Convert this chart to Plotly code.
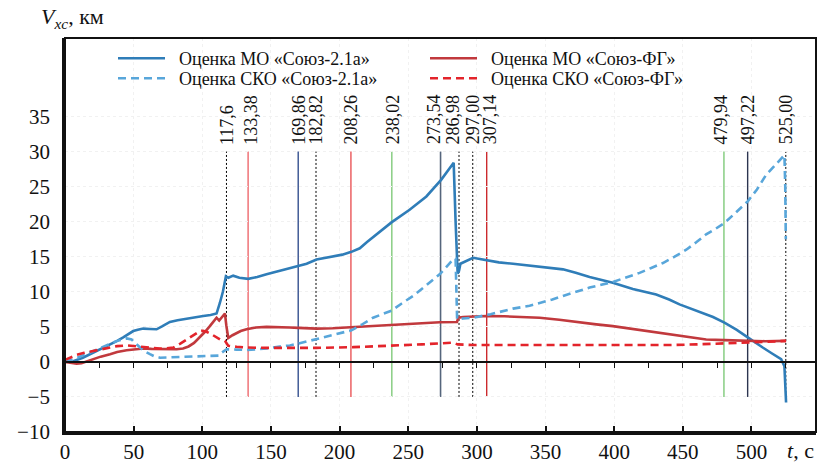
import plotly.graph_objects as go

# ---------------- data ----------------
# Оценка МО «Союз-2.1а»
mo_s21_t = [0, 6, 13, 20.6, 27, 32.8, 38, 42.4, 46, 49.7, 53, 57, 62, 66.7, 71, 76.4, 82, 88.6, 95, 100.7,
            106, 110.4, 112.8, 115, 117.2, 119, 122.5, 127, 133.4, 140, 146.8, 155, 163.8, 169.8, 176, 183.2,
            195.3, 202, 208.6, 214.7, 220, 226.9, 237.8, 251, 263.2, 274.1, 283.1, 284.5, 286, 287, 288,
            297.2, 306.9, 316, 326.3, 338.4, 350, 362.7, 372, 382.1, 399, 413.6, 430.6, 440, 447.6, 456,
            464.6, 472, 480.3, 489, 497.3, 503, 508.2, 515, 521.6, 524, 524.8, 525.2]
mo_s21_v = [0.0, 0.1, 0.6, 1.3, 1.9, 2.5, 3.0, 3.5, 3.9, 4.4, 4.6, 4.75, 4.7, 4.65, 5.1, 5.7, 5.95, 6.2, 6.4, 6.55,
            6.7, 6.9, 8.4, 10.0, 12.2, 12.0, 12.3, 12.0, 11.85, 12.1, 12.5, 12.9, 13.3, 13.6, 14.0, 14.6,
            15.0, 15.3, 15.7, 16.2, 17.1, 18.2, 19.9, 21.7, 23.6, 26.0, 28.4, 20.0, 12.6, 13.0, 14.0,
            14.85, 14.5, 14.2, 14.0, 13.75, 13.5, 13.2, 12.7, 12.1, 11.3, 10.4, 9.6, 8.9, 8.2, 7.6,
            7.0, 6.4, 5.6, 4.6, 3.5, 2.7, 2.05, 1.2, 0.4, -0.6, -3.0, -5.8]

# Оценка СКО «Союз-2.1а»
sko_s21_t = [0, 8, 14, 20.6, 26, 32.8, 38, 44.9, 48.5, 51, 54.6, 58, 61.9, 65, 69.1, 80, 93.4, 104, 110.4, 112,
             114, 117.7, 125, 132.2, 140, 146.8, 156.5, 163.8, 169.8, 176, 183.2, 195, 208.6, 216, 224.4, 231,
             237.8, 245, 253.5, 263, 272.9, 278, 282.6, 284.5, 285, 285.6, 290, 297.2, 310, 326.3, 338.4,
             345.7, 355, 362.7, 372, 382.1, 399, 408, 418.5, 427, 435.5, 444, 452.5, 460, 467, 474, 480.3,
             488, 497.3, 504, 510.7, 517, 522.8, 524, 524.6, 525]
sko_s21_v = [0.0, 0.5, 1.0, 1.55, 2.0, 2.5, 3.0, 3.35, 3.2, 2.7, 2.05, 1.5, 1.1, 0.8, 0.6, 0.65, 0.75, 0.8, 0.85, 0.9,
             1.3, 1.8, 1.75, 1.7, 1.8, 1.9, 2.2, 2.35, 2.6, 2.9, 3.2, 3.8, 4.5, 5.3, 6.3, 6.8,
             7.3, 8.3, 9.4, 10.9, 12.5, 13.6, 14.6, 14.7, 10.0, 6.1, 6.2, 6.3, 6.8, 7.6, 8.0,
             8.35, 8.9, 9.4, 10.0, 10.6, 11.4, 12.0, 12.7, 13.4, 14.1, 15.0, 16.0, 17.1, 18.2, 19.0, 19.8,
             21.2, 22.9, 24.6, 26.7, 28.0, 29.3, 29.5, 25.0, 17.5]

# Оценка МО «Союз-ФГ»
mo_fg_t = [0, 4, 8.5, 12, 16, 20.6, 26, 32.8, 38, 44.9, 50, 57, 63, 69.1, 75, 81.3, 86, 90, 94, 98.3, 102,
           105.5, 108, 110.4, 112.3, 114.5, 116.5, 117.5, 118.9, 122, 125, 128, 132.2, 139, 146.8, 156.5,
           163.8, 170, 183.2, 195, 208.6, 220, 237.8, 250, 263.2, 273, 285.5, 286.5, 290, 297, 306.9, 320,
           338.4, 345.7, 360, 374.8, 387, 399, 411, 423.4, 435, 447.6, 457, 467, 480.3, 497.3, 510, 525.2]
mo_fg_v = [0.0, -0.15, -0.25, -0.2, 0.1, 0.4, 0.75, 1.1, 1.4, 1.65, 1.8, 1.9, 1.85, 1.8, 1.75, 1.8, 1.9, 2.2, 2.7,
           3.5, 4.3, 5.1, 5.7, 6.3, 5.9, 6.4, 6.9, 5.2, 3.4, 3.8, 4.1, 4.4, 4.65, 4.9, 5.0, 5.0,
           4.9, 4.85, 4.75, 4.8, 4.95, 5.1, 5.35, 5.45, 5.6, 5.65, 5.7, 6.3, 6.4, 6.5, 6.55, 6.5,
           6.4, 6.3, 6.0, 5.6, 5.35, 5.1, 4.75, 4.4, 4.05, 3.7, 3.4, 3.2, 3.1, 3.0, 2.95, 3.0]

# Оценка СКО «Союз-ФГ»
sko_fg_t = [0, 8.5, 14, 20.6, 26, 32.8, 38, 44.9, 51, 57, 63, 69.1, 74, 78.9, 84, 88.6, 93, 98.3, 100.5, 103.1,
            107, 110.4, 113, 116.5, 118.9, 125, 132.2, 146.8, 163.8, 183.2, 210, 237.8, 260, 282.6, 286,
            297.2, 320, 345.7, 380, 411, 440, 460, 480.3, 497.3, 510, 525.2]
sko_fg_v = [0.3, 1.0, 1.3, 1.55, 1.85, 2.1, 2.25, 2.35, 2.25, 2.05, 1.95, 1.9, 1.95, 2.05, 2.6, 3.2, 3.8, 4.4, 4.45,
            4.3, 3.9, 3.5, 3.2, 3.0, 2.3, 2.15, 2.05, 2.0, 1.95, 2.0, 2.1, 2.3, 2.5, 2.75, 2.5,
            2.4, 2.4, 2.4, 2.35, 2.3, 2.4, 2.5, 2.6, 2.75, 2.85, 3.0]

# event times (vertical markers) and their labels
event_t = [117.6, 133.38, 169.86, 182.82, 208.26, 238.02, 273.54, 286.98, 297.00, 307.14, 479.94, 497.22, 525.00]
event_labels = ["117,6", "133,38", "169,86", "182,82", "208,26", "238,02", "273,54", "286,98", "297,00",
                "307,14", "479,94", "497,22", "525,00"]
event_y_range = [-5, 30]

x_ticks = [0, 50, 100, 150, 200, 250, 300, 350, 400, 450, 500]
y_ticks = [-10, -5, 0, 5, 10, 15, 20, 25, 30, 35]

# ---------------- style ----------------
FONT = "Liberation Serif, Times New Roman, serif"
event_styles = [
    ("#000000", 1, "2px,2px"), ("#f07c80", 1.6, "solid"), ("#34508f", 1.4, "solid"), ("#000000", 1, "2px,2px"),
    ("#e8484c", 1.3, "solid"), ("#8fd08a", 1.6, "solid"), ("#55657c", 1.6, "solid"), ("#000000", 1, "2px,2px"),
    ("#000000", 1, "2px,2px"), ("#cc2a2e", 1.4, "solid"), ("#8fd08a", 1.6, "solid"), ("#2c3550", 1.4, "solid"),
    ("#000000", 1, "2px,2px"),
]
label_shift = [0, 2, 0, 0, 0, 1, -7, -6, 0, 3, -3, 0, 0]

fig = go.Figure()

PAD = "\u2002"
traces = [
    (mo_s21_t, mo_s21_v, "Оценка МО «Союз-2.1а»", "#2f7db8", "solid", "legend"),
    (mo_fg_t, mo_fg_v, "Оценка МО «Союз-ФГ»", "#c1393d", "solid", "legend"),
    (sko_s21_t, sko_s21_v, "Оценка СКО «Союз-2.1а»", "#58a6da", "8px,5px", "legend2"),
    (sko_fg_t, sko_fg_v, "Оценка СКО «Союз-ФГ»", "#e3242b", "8px,5px", "legend2"),
]
for t, v, name, col, dash, leg in traces:
    fig.add_trace(go.Scatter(x=t, y=v, mode="lines", name=PAD + name, legend=leg,
                             line=dict(color=col, width=2.6, dash=dash)))

# invisible trace to carry the zero-line axis with ticks
fig.add_trace(go.Scatter(x=[0], y=[0], xaxis="x2", mode="markers", marker=dict(opacity=0),
                         showlegend=False, hoverinfo="skip"))

shapes = []
annotations = []
for t, lab, (col, w, dash), sh in zip(event_t, event_labels, event_styles, label_shift):
    shapes.append(dict(type="line", xref="x", yref="y", x0=t, x1=t, y0=event_y_range[0], y1=event_y_range[1],
                       line=dict(color=col, width=w, dash=dash), layer="below"))
    annotations.append(dict(x=t, y=event_y_range[1], xref="x", yref="y", text=lab, textangle=-90,
                            showarrow=False, xanchor="center", yanchor="bottom", yshift=5, xshift=sh,
                            font=dict(family=FONT, size=18, color="#111")))

# plot frame (top and right sides thinner than the axes)
shapes.append(dict(type="rect", xref="paper", yref="paper", x0=0, x1=1, y0=0, y1=1,
                   line=dict(color="#111", width=2), layer="above"))

L, R, T, B = 65, 10, 38, 35
W, H = 826, 467
pw, ph = W - L - R, H - T - B
XMAX = 547
YMIN, YMAX = -10, 46.2

annotations.append(dict(xref="paper", yref="paper", x=(39 - L) / pw, y=(H - B - 18) / ph,
                        xanchor="left", yanchor="middle", showarrow=False,
                        text="<i>V</i><sub><i>xc</i></sub>, км",
                        font=dict(family=FONT, size=22, color="#111")))
annotations.append(dict(xref="paper", yref="paper", x=(785 - L) / pw, y=(H - B - 450) / ph,
                        xanchor="left", yanchor="middle", showarrow=False,
                        text="<i>t</i>, с", font=dict(family=FONT, size=22, color="#111")))

legend_common = dict(orientation="h", xanchor="left", yanchor="top", bgcolor="rgba(0,0,0,0)",
                     font=dict(family=FONT, size=18, color="#111"), itemwidth=47, entrywidth=250,
                     entrywidthmode="pixels", itemclick=False, itemdoubleclick=False)

fig.update_layout(
    width=W, height=H, margin=dict(l=L, r=R, t=T, b=B, autoexpand=False),
    paper_bgcolor="white", plot_bgcolor="white",
    font=dict(family=FONT, size=21, color="#111"),
    shapes=shapes, annotations=annotations,
    showlegend=True,
    legend=dict(x=(113 - L) / pw, y=(H - B - 40) / ph, **legend_common),
    legend2=dict(x=(113 - L) / pw, y=(H - B - 60) / ph, **legend_common),
    xaxis=dict(range=[0, XMAX], tickvals=x_ticks, ticks="inside", ticklen=6, tickwidth=1.5,
               tickcolor="#111", showline=True, linecolor="#111", linewidth=2.8,
               showgrid=True, gridcolor="#f1f1f1", griddash="dot", gridwidth=1, zeroline=False,
               ticklabelstandoff=-1, automargin=False),
    xaxis2=dict(range=[0, XMAX], overlaying="x", anchor="free", position=(0 - YMIN) / (YMAX - YMIN),
                side="bottom", showline=True, linecolor="#111", linewidth=1.6, ticks="outside", ticklen=5,
                tickwidth=1.4, tickcolor="#111", tick0=0, dtick=25, showticklabels=False, showgrid=False,
                zeroline=False, automargin=False),
    yaxis=dict(range=[YMIN, YMAX], tickvals=y_ticks, ticks="", showline=True, linecolor="#111",
               linewidth=2.8, showgrid=True, gridcolor="#f1f1f1", griddash="dot",
               gridwidth=1, zeroline=False, ticklabelstandoff=8, automargin=False),
)

fig.write_html("out.html")
